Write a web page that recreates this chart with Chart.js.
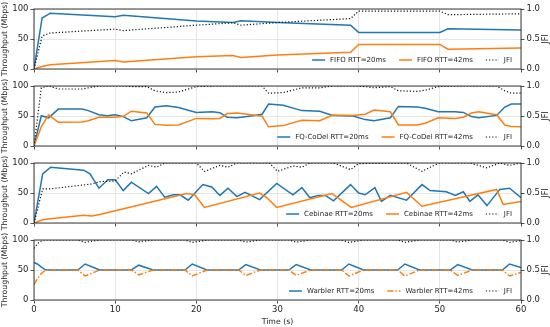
<!DOCTYPE html>
<html><head><meta charset="utf-8">
<script src="https://cdn.jsdelivr.net/npm/chart.js@4.4.0/dist/chart.umd.min.js"></script>
<style>
html,body{margin:0;padding:0;background:#fff;}
#wrap{position:relative;width:550px;height:327px;overflow:hidden;background:#fff;}
#wrap canvas{position:absolute;left:0;}
</style></head><body><div id="wrap"></div>
<script>
/* ---------------- data ---------------- */
// FIFO
const fifoT   = [0, 1, 2, 10, 11, 20, 24.5, 25.5, 30, 39, 40, 50, 51, 60];
const fifo20  = [0, 85, 93, 87, 89.5, 80, 77.5, 80.5, 77.5, 73, 61, 61, 67, 65];
const fifo42  = [0, 4, 7, 14, 11.5, 20.5, 22.5, 19, 23.5, 28, 41, 41, 33, 35];
const fifoJfi = [0, 0.55, 0.6, 0.665, 0.64, 0.73, 0.77, 0.73, 0.775, 0.84, 0.965, 0.965, 0.905, 0.92];

// FQ-CoDel
const fqT   = [0, 0.9, 1.8, 3, 5.9, 6.7, 8, 9, 10, 11, 12, 13.9, 14.9, 16.3, 17.8, 20, 22, 22.9, 23.8, 25, 27, 28.1, 28.9,
               30.7, 33, 35.2, 36.8, 39.3, 40.8, 41.9, 43.9, 44.9, 47.2, 48.2, 49.8, 51.9, 52.9, 53.9, 54.8, 57, 58, 58.8, 60];
const fq20  = [0, 50.5, 47, 61.5, 61.5, 59, 52, 50.5, 52, 49, 42, 47, 65, 67, 64, 56, 57, 55.5, 48, 47, 50.5, 53, 70,
               68, 59, 58, 51, 50, 44, 42, 47, 66, 65, 63, 57, 57, 56, 49, 47, 51, 65, 70, 70];
const fq42  = [0, 32, 52, 39.5, 40, 42, 48, 48, 48, 49.5, 58, 55, 36, 34.5, 35, 46, 45.5, 46, 54, 55, 51.6, 49.5, 32,
               34, 43, 42, 51.5, 51, 53, 60, 57, 35, 35, 38, 47, 46, 48, 55, 57, 52, 35, 32.4, 32];
const fqJfi = [0, 0.97, 1, 0.95, 0.95, 0.97, 1, 1, 1, 1, 0.99, 0.99, 0.92, 0.89, 0.9, 0.99, 1, 1, 1, 1, 1, 1, 0.88,
               0.89, 0.97, 0.97, 1, 1, 0.99, 0.97, 0.99, 0.92, 0.91, 0.93, 0.99, 1, 1, 1, 1, 1, 0.92, 0.88, 0.88];

// Cebinae
const cebT20  = [0, 1.07, 2.05, 6.1, 6.9, 8, 9.1, 10, 11, 12, 14.1, 15.1, 16.1, 17.2, 18, 19, 20.8, 21.9, 22.9, 23.9, 25, 26, 27.8,
                 29.9, 31.9, 33, 34, 35, 35.9, 36.9, 39, 40, 40.8, 42, 42.8, 43.9, 45.9, 47.8, 48.8, 50.8, 51.9, 52.9, 53.7,
                 54.7, 55.8, 57.4, 58.6, 60];
const ceb20   = [0, 82, 93, 88, 82, 58, 72, 72, 54, 68, 49, 61, 43, 47, 47, 38, 64, 60, 46, 58, 44, 51, 39,
                 66, 47, 59, 42, 46, 46, 37, 64, 50, 47, 59, 36, 46, 38, 64, 54, 52, 46, 52, 36,
                 47, 29, 56, 58, 42];
const cebT42  = [0, 1.07, 2.05, 6.1, 7.1, 8.1, 18.8, 19.8, 21, 27.8, 28.7, 29.9, 36.7, 39.1, 45.9, 47.8, 57, 57.8, 60];
const ceb42   = [0, 5.5, 7, 12.8, 11.7, 14, 49, 47, 26, 50, 42, 26, 49, 26, 51, 28, 56, 31, 36];
const cebTJ   = [0, 1.07, 2.05, 7.1, 8.1, 10, 11.1, 12, 14.1, 15.1, 16.1, 20, 21, 22.9, 23.9, 25, 29, 30,
                 31.9, 33, 34, 36.9, 39, 40, 45.9, 47.8, 48.8, 50, 53.7, 55.8, 57.4, 58.6, 60];
const cebJfi  = [0, 0.57, 0.57, 0.65, 0.69, 0.7, 0.85, 0.82, 0.96, 0.93, 1, 1, 0.86, 0.96, 0.93, 1, 1, 0.86,
                 0.95, 0.93, 1, 1, 0.89, 0.99, 1, 0.86, 0.93, 1, 1, 0.92, 1, 0.96, 1];

// Warbler
const warT   = [0, 0.4, 0.6, 1, 1.3, 1.6, 5.4, 6.3, 8.1, 12.0, 12.9, 14.7, 18.6, 19.5, 21.3, 25.2, 26.1, 27.9,
                31.4, 32.3, 34.1, 37.9, 38.8, 40.6, 44.8, 45.7, 47.5, 51.3, 52.2, 54.0, 57.7, 58.6, 60];
const war20  = [62.5, 60, 58, 54, 51, 50, 50, 60, 50, 50, 58, 50, 50, 60, 50, 50, 59, 50,
                50, 59, 50, 50, 60, 50, 50, 60, 50, 50, 59, 50, 50, 60, 54];
const war42  = [26, 35, 39, 45.5, 48, 50, 50, 40, 50, 50, 42, 50, 50, 40, 50, 50, 41, 50,
                50, 41, 50, 50, 40, 50, 50, 40, 50, 50, 41, 50, 50, 40, 46];
const warJfi = [0.86, 0.93, 0.96, 0.99, 1, 1, 1, 0.96, 1, 1, 0.97, 1, 1, 0.96, 1, 1, 0.965, 1,
                1, 0.965, 1, 1, 0.96, 1, 1, 0.96, 1, 1, 0.965, 1, 1, 0.96, 0.99];

const xTicks = [0, 10, 20, 30, 40, 50, 60];
const yTicks = [0, 50, 100];
const jTicks = [0, 0.5, 1];

/* ---------------- style ---------------- */
const BLUE = '#1f77b4', ORANGE = '#ff7f0e', INK = '#262626';
const FONT = 'DejaVu Sans';
Chart.defaults.font.family = FONT;
Chart.defaults.color = INK;

const pts = (t, v) => t.map((x, i) => ({x, y: v[i]}));

const panels = [
  {top: 9,   name: 'FIFO',     a: [fifoT, fifo20], b: [fifoT, fifo42], j: [fifoT, fifoJfi]},
  {top: 86,  name: 'FQ-CoDel', a: [fqT, fq20],     b: [fqT, fq42],     j: [fqT, fqJfi]},
  {top: 163, name: 'Cebinae',  a: [cebT20, ceb20], b: [cebT42, ceb42], j: [cebTJ, cebJfi]},
  {top: 240, name: 'Warbler',  a: [warT, war20],   b: [warT, war42],   j: [warT, warJfi], dashB: [6, 2, 1.5, 2], last: true}
];

/* frame, legend and right label */
const extras = {
  id: 'extras',
  afterDatasetsDraw(chart) {
    const {ctx, chartArea: a} = chart;
    ctx.save();
    // legend, lower right, one row
    ctx.font = '7px "' + FONT + '"';
    const ds = chart.data.datasets;
    const handle = 13, gap = 5, col = 13;
    const w = ds.map(d => handle + gap + ctx.measureText(d.label).width);
    const total = w.reduce((s, v) => s + v, 0) + col * (ds.length - 1);
    let x = a.right - 9 - total;
    const y = a.bottom - 9;
    ds.forEach((d, i) => {
      ctx.strokeStyle = d.borderColor; ctx.lineWidth = d.borderWidth;
      ctx.setLineDash(d.borderDash || []);
      ctx.beginPath(); ctx.moveTo(x, y); ctx.lineTo(x + handle, y); ctx.stroke();
      ctx.setLineDash([]);
      ctx.fillStyle = INK; ctx.textBaseline = 'middle'; ctx.textAlign = 'left';
      ctx.fillText(d.label, x + handle + gap, y + 0.5);
      x += w[i] + col;
    });
    // frame
    ctx.strokeStyle = INK; ctx.lineWidth = 0.9;
    ctx.strokeRect(a.left, a.top, a.right - a.left, a.bottom - a.top);
    // right axis label, reads bottom to top
    ctx.font = '8px "' + FONT + '"';
    ctx.translate(546, (a.top + a.bottom) / 2);
    ctx.rotate(-Math.PI / 2);
    ctx.textAlign = 'center'; ctx.textBaseline = 'middle';
    ctx.fillText('JFI', 0, 0);
    ctx.restore();
  }
};

const wrap = document.getElementById('wrap');
panels.forEach(p => {
  const cv = document.createElement('canvas');
  const h = p.last ? 97 : 80;
  cv.width = 550; cv.height = h;
  cv.style.top = (p.top - 10) + 'px';
  cv.style.width = '550px'; cv.style.height = h + 'px';
  wrap.appendChild(cv);
  const tickFont = {size: 8.5, family: FONT};
  const titleFont = {size: 7.8, family: FONT};
  const gridX = {color: '#e0e0e0', lineWidth: 0.8, tickLength: 3.5, tickColor: INK, tickWidth: 0.8};
  new Chart(cv, {
    type: 'line',
    data: {datasets: [
      {label: p.name + ' RTT=20ms', data: pts(...p.a), borderColor: BLUE, borderWidth: 1.5, yAxisID: 'y', order: 3},
      {label: p.name + ' RTT=42ms', data: pts(...p.b), borderColor: ORANGE, borderWidth: 1.5, borderDash: p.dashB, yAxisID: 'y', order: 2},
      {label: 'JFI', data: pts(...p.j), borderColor: '#111', borderWidth: 1.2, borderDash: [1.2, 2], yAxisID: 'y1', order: 1}
    ]},
    options: {
      responsive: false, animation: false, devicePixelRatio: 1,
      elements: {point: {radius: 0}, line: {tension: 0, fill: false}},
      layout: {padding: {top: 10, bottom: p.last ? 0 : 6, left: 0, right: 0}},
      plugins: {legend: {display: false}, tooltip: {enabled: false}},
      scales: {
        x: {type: 'linear', min: 0, max: 60,
            afterBuildTicks: s => { s.ticks = xTicks.map(v => ({value: v})); },
            ticks: {display: !!p.last, font: tickFont, color: INK, padding: 1, maxRotation: 0, autoSkip: false},
            grid: gridX, border: {display: false},
            title: {display: !!p.last, text: 'Time (s)', font: titleFont, color: INK, padding: {top: 0, bottom: 0}},
            afterFit: s => { s.height = p.last ? 27 : 4; }},
        y: {position: 'left', min: 0, max: 100,
            afterBuildTicks: s => { s.ticks = yTicks.map(v => ({value: v})); },
            ticks: {font: tickFont, color: INK, padding: 2},
            grid: gridX, border: {display: false},
            title: {display: true, text: 'Throughput (Mbps)', font: titleFont, color: INK, padding: {top: 0, bottom: 1}},
            afterFit: s => { s.width = 34; }},
        y1: {position: 'right', min: 0, max: 1,
            afterBuildTicks: s => { s.ticks = jTicks.map(v => ({value: v})); },
            ticks: {font: tickFont, color: INK, padding: 2, callback: v => v.toFixed(1)},
            grid: {drawOnChartArea: false, tickLength: 3.5, tickColor: INK, tickWidth: 0.8},
            border: {display: false},
            afterFit: s => { s.width = 29; }}
      }
    },
    plugins: [extras]
  });
});
</script>
</body></html>
